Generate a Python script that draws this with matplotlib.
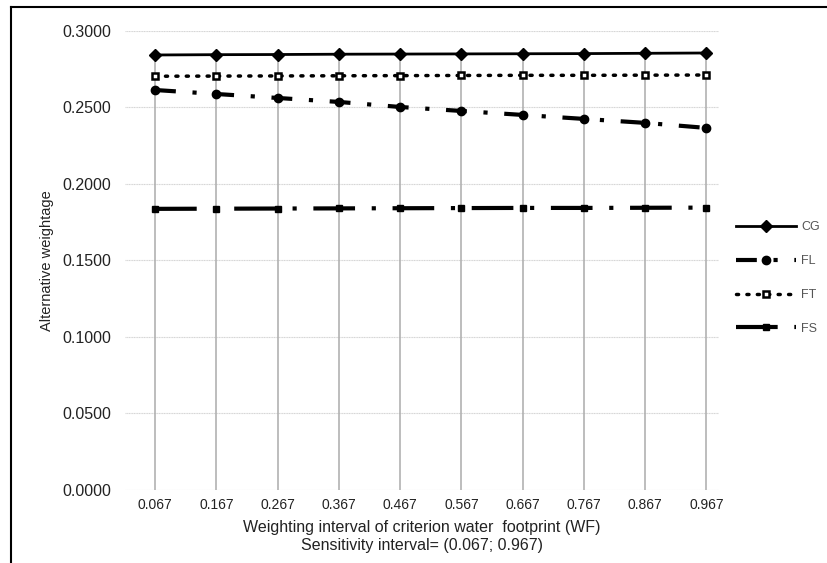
import numpy as np
import matplotlib.pyplot as plt
from matplotlib.lines import Line2D

plt.rcParams['font.family'] = ['Liberation Sans', 'DejaVu Sans']

## data
wf_interval = ['0.067', '0.167', '0.267', '0.367', '0.467',
               '0.567', '0.667', '0.767', '0.867', '0.967']
cg = [0.2843, 0.2845, 0.2846, 0.2848, 0.2849, 0.2850, 0.2851, 0.2852, 0.2854, 0.2856]
fl = [0.2614, 0.2588, 0.2562, 0.2536, 0.2503, 0.2477, 0.2451, 0.2425, 0.2399, 0.2366]
ft = [0.2704, 0.2705, 0.2706, 0.2707, 0.2708, 0.2709, 0.2710, 0.2710, 0.2711, 0.2712]
fs = [0.1837, 0.1838, 0.1839, 0.1840, 0.1841, 0.1842, 0.1843, 0.1843, 0.1844, 0.1845]
y_ticks = [0.0, 0.05, 0.10, 0.15, 0.20, 0.25, 0.30]


def main():
    fig = plt.figure(figsize=(8.28, 5.63), dpi=100)
    ax = fig.add_axes([0.151, 0.130, 0.717, 0.815])
    x = np.arange(len(wf_interval))

    # grid lines (horizontal)
    for yt in y_ticks:
        ax.axhline(yt, color='#d4d4d4', lw=0.8, ls=(0, (1, 0.5)), zorder=0)
    # drop lines from the axis up to the highest series
    top = np.max([cg, fl, ft, fs], axis=0)
    ax.vlines(x, 0, top, color='#ababab', lw=1.1, zorder=1)

    ax.plot(x, cg, color='black', lw=2, marker='D', ms=6, label='CG', zorder=3)
    ax.plot(x, fl, color='black', lw=3, ls=(0, (5, 4, 1, 4)), marker='o', ms=6,
            label='FL', zorder=3)
    ax.plot(x, ft, color='black', lw=2.5, ls=(0, (0.6, 2.4)), dash_capstyle='round',
            marker='s', ms=5, mfc='white', mec='black', mew=1.8, label='FT', zorder=3)
    ax.plot(x, fs, color='black', lw=3, ls=(0, (10, 4, 1, 4)), marker='s', ms=5,
            label='FS', zorder=3)

    ax.set_xlim(-0.49, 9.2)
    ax.set_ylim(0, 0.3)
    ax.set_xticks(x)
    ax.set_xticklabels(wf_interval, fontsize=10)
    ax.set_yticks(y_ticks)
    ax.set_yticklabels(['%.4f' % v for v in y_ticks], fontsize=11.5)
    ax.tick_params(axis='y', length=0, pad=10, colors='#222222')
    ax.tick_params(axis='x', length=0, pad=6, colors='#222222')
    for s in ax.spines.values():
        s.set_visible(False)

    ax.set_xlabel('Weighting interval of criterion water  footprint (WF)\n'
                  'Sensitivity interval= (0.067; 0.967)', fontsize=11.5, labelpad=6,
                  color='#222222', linespacing=1.2)
    ax.set_ylabel('Alternative weightage', fontsize=10.5, color='#222222')
    ax.yaxis.set_label_coords(-0.12, 0.5)

    leg = ax.legend(loc='upper left', bbox_to_anchor=(1.01, 0.61), frameon=False,
                    fontsize=9, handlelength=4.8, labelspacing=1.75, handletextpad=0.4)
    for t in leg.get_texts():
        t.set_color('#555555')

    # outer frame (left and top only visible in crop)
    fig.add_artist(Line2D([0.0133, 0.0133], [0, 0.988], color='black', lw=1.5,
                          transform=fig.transFigure))
    fig.add_artist(Line2D([0.0133, 1.0], [0.988, 0.988], color='black', lw=1.5,
                          transform=fig.transFigure))

    fig.savefig('out.png', dpi=100)


if __name__ == '__main__':
    main()
